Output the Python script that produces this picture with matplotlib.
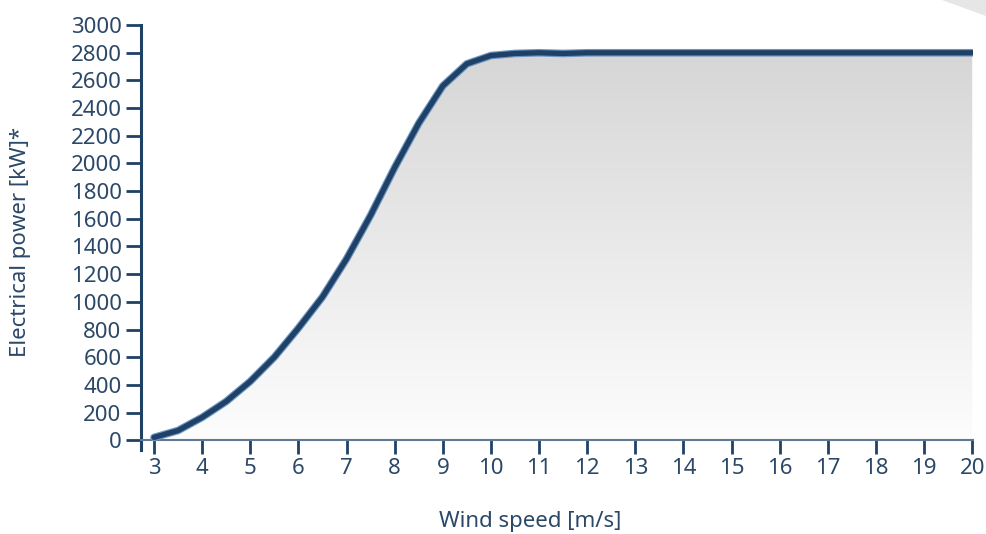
import matplotlib.pyplot as plt
import matplotlib.patheffects as pe
from matplotlib.colors import LinearSegmentedColormap
from matplotlib.patches import Polygon
import numpy as np

# --------------------------------------------------------------------
# Data
# --------------------------------------------------------------------
wind_speed = [3.0, 3.5, 4.0, 4.5, 5.0, 5.5, 6.0, 6.5, 7.0, 7.5, 8.0, 8.5,
              9.0, 9.5, 10.0, 10.5, 11.0, 11.5, 12.0, 13.0, 14.0, 15.0,
              16.0, 17.0, 18.0, 19.0, 20.0]
power = [20, 70, 165, 280, 425, 600, 810, 1035, 1310, 1625, 1970, 2290,
         2560, 2720, 2780, 2795, 2800, 2795, 2800, 2800, 2800, 2800,
         2800, 2800, 2800, 2800, 2800]
xticks = list(range(3, 21))
yticks = list(range(0, 3001, 200))

navy = '#1f4166'
textc = '#2b4868'
plt.rcParams['font.family'] = ['Noto Sans', 'DejaVu Sans']

fig = plt.figure(figsize=(9.86, 5.34), dpi=100)
ax = fig.add_axes([0.143, 0.157, 0.844, 0.796])

# grey corner decoration
fig.patches.append(Polygon([[0.955, 1.0], [1.0, 1.0], [1.0, 0.97]],
                           closed=True, transform=fig.transFigure,
                           facecolor='#e6e6e6', edgecolor='none'))

# --------------------------------------------------------------------
# Gradient fill below the curve
# --------------------------------------------------------------------
grad = np.linspace(0, 1, 256).reshape(-1, 1)
cmap = LinearSegmentedColormap.from_list('g', ['#fdfdfd', '#d6d6d6'])
img = ax.imshow(grad, cmap=cmap, aspect='auto', origin='lower',
                extent=[3, 20, 0, 2800], zorder=1)
clip = ax.fill_between(wind_speed, 0, power, facecolor='none', edgecolor='none')
img.set_clip_path(clip.get_paths()[0], transform=ax.transData)

ax.plot(wind_speed, power, color=navy, linewidth=3.8, solid_capstyle='round',
        zorder=3, path_effects=[pe.Stroke(linewidth=5.5, foreground='#6d95c4'),
                                pe.Normal()])

# --------------------------------------------------------------------
# Axes
# --------------------------------------------------------------------
ax.set_xlim(2.73, 20.02)
ax.set_ylim(-72, 3000)
ax.spines['top'].set_visible(False)
ax.spines['right'].set_visible(False)
ax.spines['bottom'].set_position(('data', 0))
ax.spines['bottom'].set_color('#5f7894')
ax.spines['bottom'].set_linewidth(1.5)
ax.spines['left'].set_color(navy)
ax.spines['left'].set_linewidth(2.2)

ax.set_xticks(xticks)
ax.set_yticks(yticks)
ax.tick_params(axis='x', direction='out', length=10, width=2, color=navy,
               labelsize=16, labelcolor=textc, pad=3)
ax.tick_params(axis='y', direction='out', length=11, width=2, color=navy,
               labelsize=16, labelcolor=textc, pad=3)

fig.text(530 / 986, 1 - 522 / 534, 'Wind speed [m/s]', fontsize=16,
         color=textc, ha='center', va='center')
fig.text(21 / 986, 1 - 242 / 534, 'Electrical power [kW]*', fontsize=16,
         color=textc, ha='center', va='center', rotation=90)

plt.savefig('out.png', dpi=100)
plt.close()
